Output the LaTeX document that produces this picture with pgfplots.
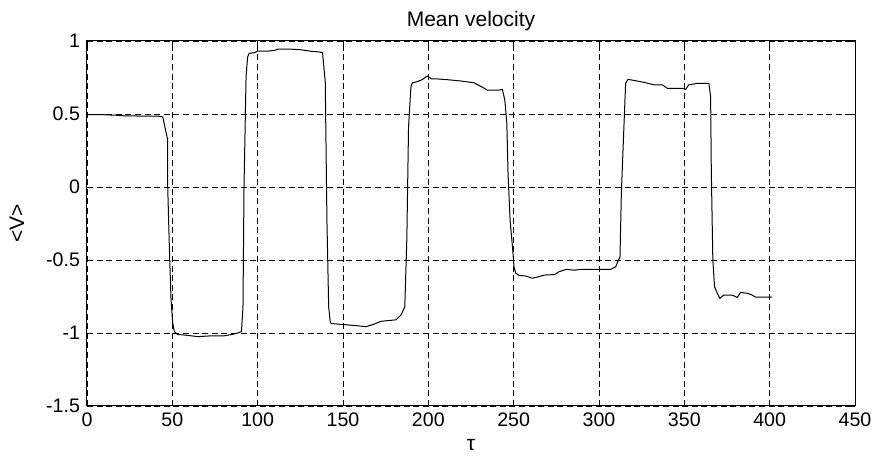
\documentclass[border=0pt]{standalone}
\usepackage{fontspec}
\setmainfont{Liberation Sans}
\usepackage{pgfplots}
\pgfplotsset{compat=1.18}

\begin{document}
\begin{tikzpicture}
\begin{axis}[
    scale only axis,
    width=384pt,
    height=182.5pt,
    xmin=0, xmax=450,
    ymin=-1.5, ymax=1,
    xtick distance=50,
    ytick distance=0.5,
    tick align=inside,
    major tick length=2.5pt,
    tick style={black, line width=0.4pt},
    grid=major,
    major grid style={black, line width=0.4pt, dash pattern=on 3pt off 1.8pt},
    axis line style={black, line width=0.5pt},
    /pgf/number format/assume math mode=true,
    ticklabel style={font=\fontsize{9.8}{11}\selectfont},
    title={Mean velocity},
    every axis title/.style={at={(axis description cs:0.5,1)}, anchor=base,
        yshift=7.2pt, font=\fontsize{10.5}{12}\selectfont},
    xlabel={τ},
    ylabel={<V>},
    every axis x label/.style={at={([yshift=-19.5pt]axis description cs:0.5,0)},
        anchor=center, font=\fontsize{10.5}{12}\selectfont},
    every axis y label/.style={at={([xshift=-35pt]axis description cs:0,0.5)},
        anchor=center, rotate=90, font=\fontsize{10.5}{12}\selectfont},
]
\addplot[black, line width=0.5pt] coordinates {
(0,0.495) (10,0.495) (20,0.49) (22,0.487) (42,0.485) (44.4,0.48) (45.5,0.42)
(47.3,0.32) (47.3,0.0) (48.3,-0.43) (49.2,-0.76) (50.2,-0.93) (51.2,-0.99)
(53,-1.01) (58,-1.015) (65,-1.025) (72,-1.02) (80,-1.02) (85,-1.01) (88.3,-1.0)
(90.5,-0.99) (91.4,-0.82) (92,0.0) (93.2,0.755) (94.1,0.89) (95,0.915) (98,0.92)
(100,0.93) (105,0.93) (109.7,0.935) (112,0.945) (118,0.945) (125.4,0.94)
(131,0.93) (136,0.925) (138,0.92) (139.6,0.72) (140.6,-0.24) (141.6,-0.82)
(142.5,-0.92) (143,-0.935) (148,-0.94) (153,-0.945) (158,-0.95) (163.4,-0.957)
(168,-0.94) (172.2,-0.92) (181,-0.91) (184,-0.877) (186.2,-0.82) (187.4,-0.36)
(188.4,0.41) (189.8,0.687) (190.7,0.714) (193,0.72) (196,0.733) (199.5,0.76)
(202,0.74) (205.4,0.74) (211.2,0.735) (219,0.726) (226.7,0.714) (230.7,0.69)
(234.6,0.664) (241.5,0.664) (243.4,0.668) (244.8,0.596) (246,0.436) (246.7,0.094)
(247.9,-0.226) (249.3,-0.41) (250.2,-0.546) (251.2,-0.59) (253,-0.605)
(257,-0.61) (261,-0.625) (264.9,-0.614) (268,-0.603) (274,-0.6) (276.6,-0.58)
(281,-0.564) (285.4,-0.57) (289.3,-0.564) (300,-0.565) (306.9,-0.564)
(309.8,-0.546) (312.3,-0.477) (313.1,-0.043) (314.6,0.413) (315.6,0.71)
(317,0.737) (320.5,0.73) (326.3,0.717) (332.2,0.7) (337.1,0.7) (340,0.676)
(348.8,0.676) (350.8,0.668) (352.5,0.699) (357.6,0.71) (364.4,0.71)
(365.4,0.619) (365.8,0.116) (366.7,-0.5) (367.7,-0.683) (369.3,-0.728)
(370.9,-0.763) (373,-0.74) (378,-0.74) (381,-0.756) (383,-0.722)
(386.9,-0.728) (389.8,-0.74) (391.7,-0.755) (401.5,-0.755)
};
\end{axis}
% page size matches the reference canvas (1 px = 0.5 pt)
\pgfresetboundingbox
\path ([shift={(-43.5pt,-27.5pt)}]current axis.south west)
      rectangle ([shift={(9.5pt,20.5pt)}]current axis.north east);
\end{tikzpicture}
\end{document}
